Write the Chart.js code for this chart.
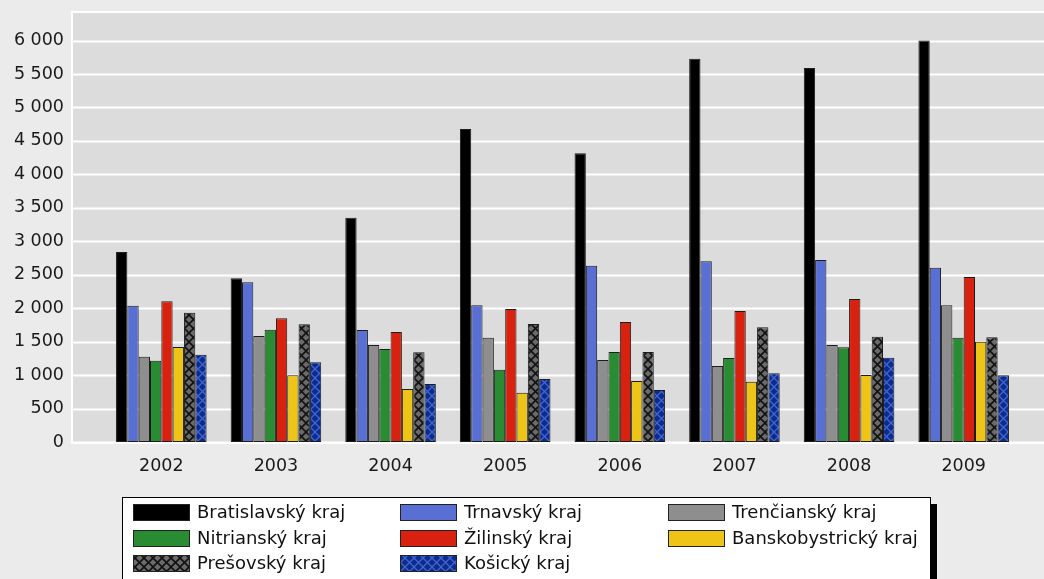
<!DOCTYPE html>
<html>
<head>
<meta charset="utf-8">
<script src="https://cdn.jsdelivr.net/npm/chart.js@4"></script>
<style>
  html, body { margin: 0; padding: 0; background: #ebebeb; }
  #wrap { width: 1044px; height: 579px; position: relative; }
</style>
</head>
<body>
<div id="wrap"><canvas id="kraje" width="1044" height="579"></canvas></div>
<script>
// --- data ---
const years = ['2002', '2003', '2004', '2005', '2006', '2007', '2008', '2009'];
const regions = ['Bratislavský kraj', 'Trnavský kraj', 'Trenčianský kraj', 'Nitrianský kraj',
                 'Žilinský kraj', 'Banskobystrický kraj', 'Prešovský kraj', 'Košický kraj'];
const bratislavsky   = [2840, 2446, 3352, 4677, 4314, 5728, 5589, 6000];
const trnavsky       = [2037, 2387, 1674, 2043, 2635, 2700, 2720, 2605];
const trenciansky    = [1275, 1584, 1450, 1559, 1225, 1136, 1450, 2043];
const nitriansky     = [1215, 1678, 1390, 1080, 1345, 1255, 1415, 1559];
const zilinsky       = [2103, 1849, 1644, 1988, 1793, 1958, 2137, 2466];
const banskobystricky = [1420, 997, 792, 737, 912, 901, 1001, 1499];
const presovsky      = [1932, 1759, 1340, 1763, 1345, 1714, 1574, 1565];
const kosicky        = [1305, 1191, 867, 941, 777, 1026, 1260, 997];
const yTicks = [0, 500, 1000, 1500, 2000, 2500, 3000, 3500, 4000, 4500, 5000, 5500, 6000];

const FONT = '"DejaVu Sans", sans-serif';

// crosshatch fill for the two patterned series
function hatch(bg, line, w) {
    const n = 9;
    const c = document.createElement('canvas');
    c.width = n; c.height = n;
    const g = c.getContext('2d');
    g.fillStyle = bg;
    g.fillRect(0, 0, n, n);
    g.strokeStyle = line;
    g.lineWidth = w;
    g.beginPath();
    g.moveTo(0, 0); g.lineTo(n, n);
    g.moveTo(n, 0); g.lineTo(0, n);
    g.stroke();
    return g.createPattern(c, 'repeat');
}

const fills = [
    '#000000', '#5a6fd4', '#8e8e8e', '#2a8c32',
    '#d8220f', '#eec417', hatch('#6a6a6a', '#111111', 1.6), hatch('#0b2c8c', '#4365d2', 1.3)
];
const series = [bratislavsky, trnavsky, trenciansky, nitriansky,
                zilinsky, banskobystricky, presovsky, kosicky];

// gray plot panel with white grid, wider than the bar area
const panel = {
    id: 'panel',
    beforeDatasetsDraw(chart) {
        const { ctx, chartArea: a, scales: { y } } = chart;
        const left = 72, right = chart.width + 4;
        ctx.save();
        ctx.fillStyle = '#dcdcdc';
        ctx.fillRect(left, a.top, right - left, a.bottom - a.top);
        ctx.strokeStyle = '#ffffff';
        ctx.lineWidth = 2;
        yTicks.forEach(v => {
            const py = Math.round(y.getPixelForValue(v)) + 0.5;
            ctx.beginPath();
            ctx.moveTo(left, py);
            ctx.lineTo(right, py);
            ctx.stroke();
        });
        ctx.strokeRect(left, a.top, right - left, a.bottom - a.top + 1);
        ctx.restore();
    }
};

// boxed legend with three columns and a black drop shadow
const boxLegend = {
    id: 'boxLegend',
    afterDraw(chart) {
        const { ctx } = chart;
        const bx = 122, by = 497, bw = 808, bh = 90;
        ctx.save();
        ctx.fillStyle = '#000';
        ctx.fillRect(bx + bw, by + 7, 7, bh);
        ctx.fillStyle = '#fff';
        ctx.fillRect(bx, by, bw, bh);
        ctx.strokeStyle = '#000';
        ctx.lineWidth = 1;
        ctx.strokeRect(bx + 0.5, by + 0.5, bw, bh);
        const cols = [133, 400, 668];
        const rows = [512, 538, 563];
        ctx.font = '18px ' + FONT;
        ctx.textBaseline = 'middle';
        chart.data.datasets.forEach((ds, i) => {
            const x = cols[i % 3], y = rows[Math.floor(i / 3)];
            ctx.fillStyle = ds.backgroundColor;
            ctx.fillRect(x, y - 8, 57, 17);
            ctx.strokeStyle = '#222';
            ctx.strokeRect(x + 0.5, y - 7.5, 56, 16);
            ctx.fillStyle = '#111';
            ctx.fillText(ds.label, x + 64, y + 1);
        });
        ctx.restore();
    }
};

new Chart(document.getElementById('kraje'), {
    type: 'bar',
    data: {
        labels: years,
        datasets: regions.map((name, i) => ({
            label: name,
            data: series[i],
            backgroundColor: fills[i],
            borderColor: '#1c1c1c',
            borderWidth: 1,
            borderSkipped: false,
            barPercentage: 1,
            categoryPercentage: 0.79
        }))
    },
    options: {
        responsive: false,
        animation: false,
        layout: { padding: { top: 12, right: 23, left: 0, bottom: 0 } },
        plugins: {
            legend: { display: false },
            tooltip: { enabled: false }
        },
        scales: {
            x: {
                grid: { display: false, drawTicks: false },
                border: { display: false },
                ticks: { color: '#1a1a1a', font: { family: FONT, size: 17.5 }, padding: 14 },
                afterFit: s => { s.height = 137; s.paddingLeft = 0; s.paddingRight = 0; }
            },
            y: {
                min: 0,
                max: 6426,
                grid: { display: false, drawTicks: false },
                border: { display: false },
                afterBuildTicks: s => { s.ticks = yTicks.map(v => ({ value: v })); },
                ticks: {
                    color: '#1a1a1a',
                    font: { family: FONT, size: 17.5 },
                    padding: 40,
                    callback: v => v >= 1000 ? Math.floor(v / 1000) + ' ' + String(v % 1000).padStart(3, '0') : String(v)
                },
                afterFit: s => { s.width = 104; s.paddingTop = 0; s.paddingBottom = 0; }
            }
        }
    },
    plugins: [panel, boxLegend]
});
</script>
</body>
</html>
